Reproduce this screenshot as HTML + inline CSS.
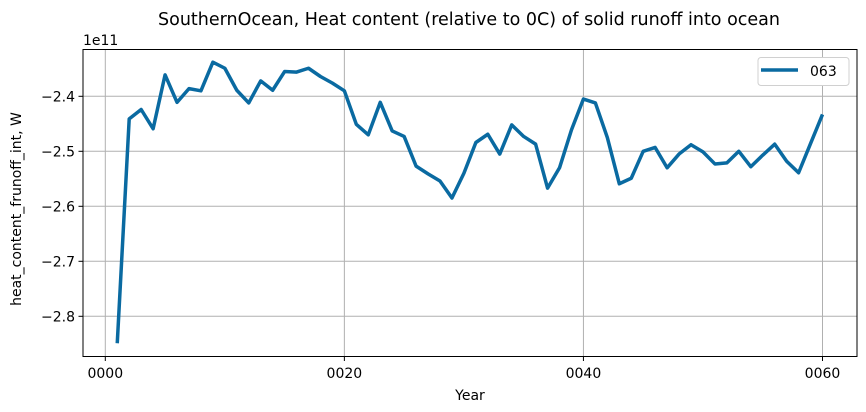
<!DOCTYPE html>
<html><head><meta charset="utf-8"><style>
body{margin:0;background:#fff;}
svg{display:block;font-family:"DejaVu Sans","Liberation Sans",sans-serif;}
</style></head><body>
<svg id="chart" width="866" height="412">
<text x="469" y="25" text-anchor="middle" font-size="17.5">SouthernOcean, Heat content (relative to 0C) of solid runoff into ocean</text>
<text x="83" y="45" font-size="14">1e11</text>
<g id="grid"></g>
<g id="ticks"></g>
<polyline id="series" fill="none" stroke="#0a6aa1" stroke-width="3.5" stroke-linejoin="round"></polyline>
<rect x="83" y="49.5" width="774" height="307" fill="none" stroke="#000" stroke-width="1"/>
<g>
<rect x="758" y="57.5" width="91" height="28" rx="3" fill="#fff" stroke="#d0d0d0"/>
<line x1="761" y1="70" x2="798" y2="70" stroke="#0a6aa1" stroke-width="3.5"/>
<text x="810" y="76" font-size="14">063</text>
</g>
<text x="470" y="400" text-anchor="middle" font-size="14">Year</text>
<text transform="translate(21,209) rotate(-90)" text-anchor="middle" font-size="14">heat_content_frunoff_int, W</text>
</svg>
<script>
const years=[1,2,3,4,5,6,7,8,9,10,11,12,13,14,15,16,17,18,19,20,21,22,23,24,25,26,27,28,29,30,31,32,33,34,35,36,37,38,39,40,41,42,43,44,45,46,47,48,49,50,51,52,53,54,55,56,57,58,59,60];
const values=[-2.849,-2.441,-2.424,-2.459,-2.361,-2.411,-2.386,-2.390,-2.338,-2.349,-2.389,-2.412,-2.372,-2.389,-2.355,-2.356,-2.349,-2.364,-2.376,-2.390,-2.451,-2.470,-2.411,-2.463,-2.473,-2.527,-2.541,-2.554,-2.585,-2.540,-2.484,-2.469,-2.505,-2.452,-2.473,-2.487,-2.567,-2.530,-2.461,-2.405,-2.412,-2.475,-2.559,-2.549,-2.500,-2.493,-2.530,-2.505,-2.488,-2.501,-2.523,-2.521,-2.500,-2.528,-2.507,-2.487,-2.518,-2.539,-2.486,-2.433];
const xTicks=[0,20,40,60];
const xTickLabels=["0000","0020","0040","0060"];
const yTicks=[-2.4,-2.5,-2.6,-2.7,-2.8];
const yTickLabels=["\u22122.4","\u22122.5","\u22122.6","\u22122.7","\u22122.8"];
const NS="http://www.w3.org/2000/svg";
function xs(v){return 105.3+v*(822.5-105.3)/60;}
function ys(v){return 96.3+(-2.4-v)*550;}
const grid=document.getElementById('grid'),ticks=document.getElementById('ticks');
function mk(tag,attrs,parent){const e=document.createElementNS(NS,tag);for(const k in attrs)e.setAttribute(k,attrs[k]);parent.appendChild(e);return e;}
xTicks.forEach((t,i)=>{const x=xs(t);
 const g=mk('line',{x1:x,x2:x,y1:49.5,y2:356.5,stroke:'#b0b0b0','stroke-width':1},grid);
 
 
 const tk=mk('line',{x1:x,x2:x,y1:356.5,y2:361,stroke:'#000'},ticks);
 
 
 const tx=mk('text',{x:x,y:378,'text-anchor':'middle','font-size':14},ticks);tx.textContent=xTickLabels[i];
 
 
});
yTicks.forEach((t,i)=>{const y=ys(t);
 const g=mk('line',{x1:83,x2:857,y1:y,y2:y,stroke:'#b0b0b0','stroke-width':1},grid);
 
 
 const tk=mk('line',{x1:78.5,x2:83,y1:y,y2:y,stroke:'#000'},ticks);
 
 
 const tx=mk('text',{x:75,y:y+5,'text-anchor':'end','font-size':14},ticks);tx.textContent=yTickLabels[i];
 
 
});
document.getElementById('series').setAttribute('points',years.map((y,i)=>xs(y)+','+ys(values[i])).join(' '));
</script>
</body></html>
